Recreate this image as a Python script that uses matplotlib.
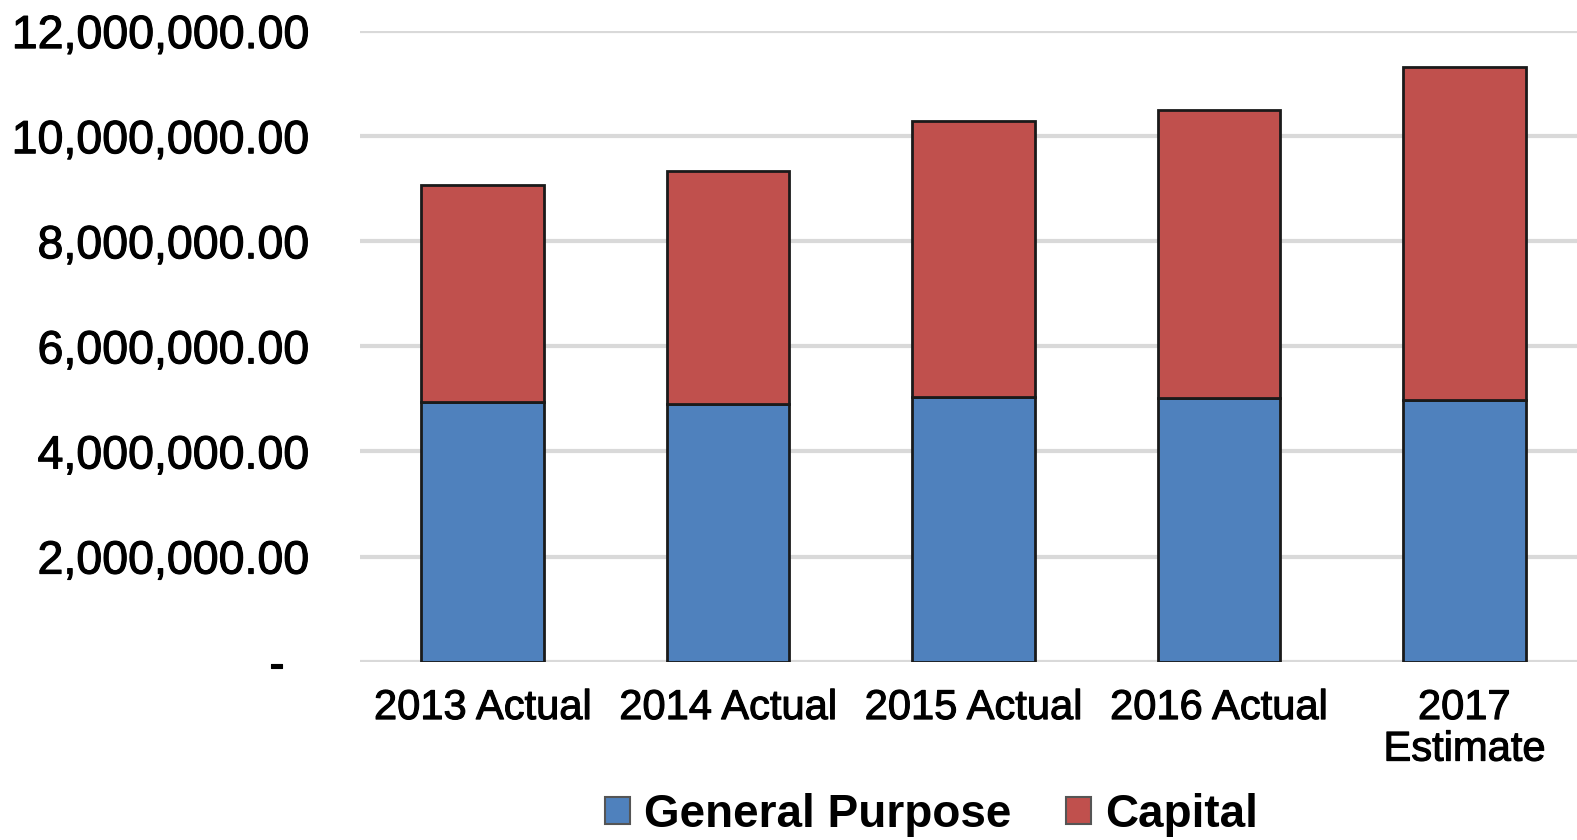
import matplotlib
matplotlib.use("Agg")
import matplotlib.pyplot as plt
import matplotlib.patheffects as pe
from matplotlib.patches import Patch
from matplotlib.ticker import FuncFormatter
import numpy as np

plt.rcParams['font.family'] = ['Liberation Sans', 'DejaVu Sans']

categories = ['2013 Actual', '2014 Actual', '2015 Actual', '2016 Actual', '2017\nEstimate']
general_purpose = [4950000, 4900000, 5040000, 5020000, 4970000]
capital = [4130000, 4430000, 5250000, 5480000, 6350000]

blue = '#4F81BD'
red = '#C0504D'


def money(v, pos):
    if v == 0:
        return '-  '
    return '{:,.2f}'.format(v)


fig = plt.figure(figsize=(15.77, 8.4), dpi=100)
ax = fig.add_axes([0.2283, 0.2123, 0.778, 0.7507])

x = np.arange(len(categories))
ax.bar(x, general_purpose, width=0.5, color=blue, edgecolor='#1a1a1a', linewidth=2, zorder=3)
ax.bar(x, capital, width=0.5, bottom=general_purpose, color=red, edgecolor='#1a1a1a',
       linewidth=2, zorder=3)

ax.set_xlim(-0.5, len(categories) - 0.5)
ax.set_ylim(0, 12000000)
ax.set_yticks(np.arange(0, 12000001, 2000000))
ax.yaxis.set_major_formatter(FuncFormatter(money))
ax.grid(axis='y', color='#d9d9d9', linewidth=3, zorder=0)
ax.set_axisbelow(True)

for s in ax.spines.values():
    s.set_visible(False)

ax.tick_params(axis='y', length=0, pad=36, labelsize=33.5)
ax.tick_params(axis='x', length=0, pad=19, labelsize=30)
ax.set_xticks(x)
ax.set_xticklabels(categories, linespacing=1.05)

# slightly heavier strokes on the axis text
heavy = [pe.withStroke(linewidth=0.8, foreground='black')]
for lbl in ax.get_xticklabels() + ax.get_yticklabels():
    lbl.set_path_effects(heavy)

handles = [Patch(facecolor=blue, edgecolor='#555555', linewidth=1.5),
           Patch(facecolor=red, edgecolor='#555555', linewidth=1.5)]
fig.legend(handles, ['General Purpose', 'Capital'], loc='center',
           bbox_to_anchor=(0.5905, 0.03), ncol=2, frameon=False,
           prop={'size': 33, 'weight': 'bold'}, handlelength=0.55, handleheight=0.55,
           handletextpad=0.3, columnspacing=1.2)

fig.savefig('out.png', dpi=100)
